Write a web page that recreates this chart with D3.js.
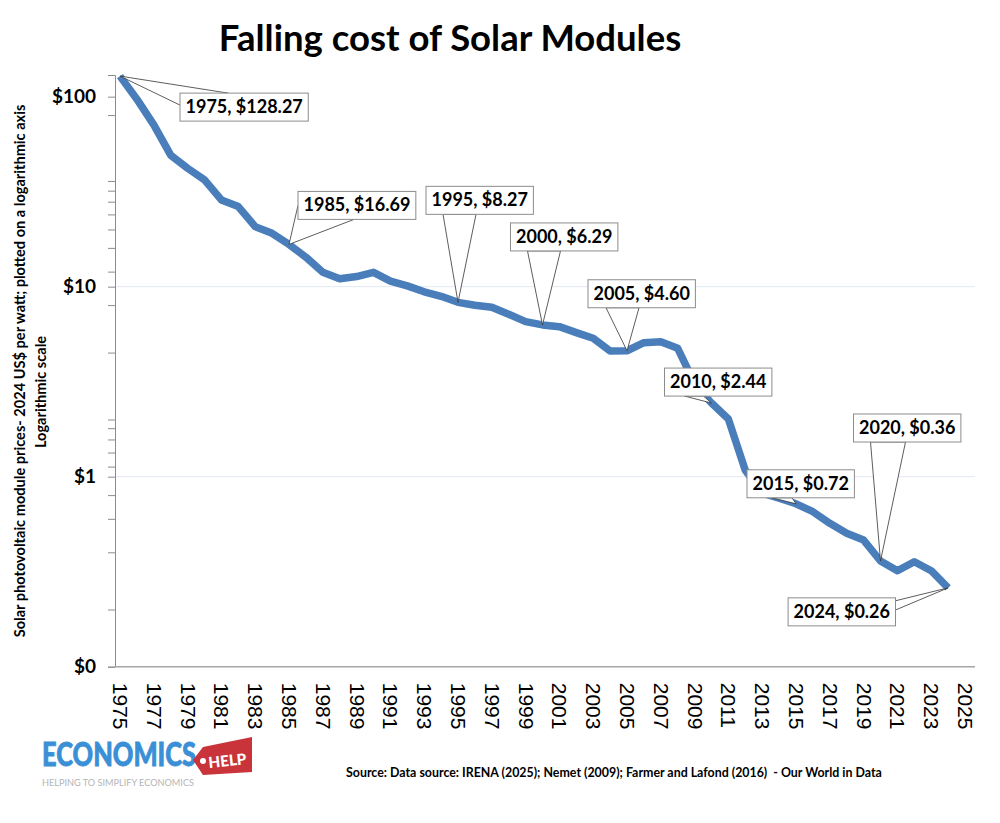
<!DOCTYPE html>
<html>
<head>
<meta charset="utf-8">
<script src="https://cdn.jsdelivr.net/npm/d3@7"></script>
<style>
  body { margin: 0; background: #fff; }
  text { font-family: Lato, "Open Sans", sans-serif; }
</style>
</head>
<body>
<div id="chart"></div>
<script>
// data (2024 US$ per watt)
var years = [1975, 1976, 1977, 1978, 1979, 1980, 1981, 1982, 1983, 1984,
             1985, 1986, 1987, 1988, 1989, 1990, 1991, 1992, 1993, 1994,
             1995, 1996, 1997, 1998, 1999, 2000, 2001, 2002, 2003, 2004,
             2005, 2006, 2007, 2008, 2009, 2010, 2011, 2012, 2013, 2014,
             2015, 2016, 2017, 2018, 2019, 2020, 2021, 2022, 2023, 2024];
var prices = [128.27, 97, 71, 49.2, 42, 36.5, 28.6, 26.4, 20.7, 19.1,
              16.69, 14.3, 11.9, 11.0, 11.3, 11.9, 10.7, 10.1, 9.4, 8.9,
              8.27, 7.98, 7.8, 7.16, 6.55, 6.29, 6.16, 5.73, 5.35, 4.59,
              4.60, 5.07, 5.13, 4.74, 3.1, 2.44, 2.01, 1.08, 0.82, 0.77,
              0.72, 0.654, 0.568, 0.504, 0.464, 0.36, 0.32, 0.357, 0.32, 0.26];

var labelYears = [1975, 1985, 1995, 2000, 2005, 2010, 2015, 2020, 2024];

var yMajorTicks = [0.1, 1, 10, 100];
var yMinorTicks = [80, 36, 32, 28, 24, 20, 16, 12,
                   8, 4.5, 2, 1.8, 1.57, 1.34, 1.13,
                   0.8, 0.6, 0.4, 0.2];
var xTickYears = [1975, 1977, 1979, 1981, 1983, 1985, 1987, 1989, 1991, 1993,
                  1995, 1997, 1999, 2001, 2003, 2005, 2007, 2009, 2011, 2013,
                  2015, 2017, 2019, 2021, 2023, 2025];

// callout box placement: box offset from point, wedge anchors relative to box
var calloutLayout = {
    1975: { dx: 60, dy: 17, a1: [0, 12], a2: [48, 0] },
    1985: { dx: 9, dy: -53, a1: [0, 14], a2: [56, 28] },
    1995: { dx: -32, dy: -116, a1: [17, 28], a2: [50, 28] },
    2000: { dx: -32, dy: -102, a1: [17, 28], a2: [50, 28] },
    2005: { dx: -39, dy: -71, a1: [18, 28], a2: [51, 28] },
    2010: { dx: -47, dy: -35, a1: [20, 28], a2: [39, 28] },
    2015: { dx: -49, dy: -34, a1: [25, 28], a2: [45, 28] },
    2020: { dx: -27, dy: -147, a1: [17, 28], a2: [52, 28] },
    2024: { dx: -160, dy: 10, a1: [103, 4], a2: [103, 14] }
};

var width = 1000, height = 823;
var svg = d3.select("#chart").append("svg")
    .attr("width", width)
    .attr("height", height);

var x = d3.scaleLinear().domain([1975, 2025]).range([120, 965]);
var y = d3.scaleLog().domain([0.1, 130]).range([666.7, 75]);

// title
svg.append("text")
    .attr("x", 450).attr("y", 51)
    .attr("text-anchor", "middle")
    .style("font-size", "36.5px").style("font-weight", "bold")
    .text("Falling cost of Solar Modules");

// gridlines
svg.append("g").selectAll("line")
    .data([1, 10])
    .enter().append("line")
    .attr("x1", 115).attr("x2", 975)
    .attr("y1", d => y(d)).attr("y2", d => y(d))
    .attr("stroke", "#e3e9f2").attr("stroke-width", 1);

// y axis
var yAxis = svg.append("g")
    .attr("transform", "translate(115,0)")
    .call(d3.axisLeft(y).tickValues(yMajorTicks).tickSize(7).tickPadding(12)
        .tickFormat(d => d < 1 ? "$0" : "$" + d));
yAxis.selectAll("text").style("font-size", "19px").style("font-weight", "bold")
    .attr("fill", "#000");
yAxis.select(".domain").attr("stroke", "#8c8c8c");
yAxis.selectAll(".tick line").attr("stroke", "#8c8c8c");

var yMinor = svg.append("g")
    .attr("transform", "translate(115,0)")
    .call(d3.axisLeft(y).tickValues(yMinorTicks).tickSize(7).tickFormat(""));
yMinor.select(".domain").remove();
yMinor.selectAll(".tick line").attr("stroke", "#8c8c8c");

// x axis
var xAxis = svg.append("g")
    .attr("transform", "translate(0,666.7)")
    .call(d3.axisBottom(x).tickValues(xTickYears).tickSize(0).tickFormat(d3.format("d")));
xAxis.select(".domain").remove();
xAxis.append("line")
    .attr("x1", 115).attr("x2", 975)
    .attr("stroke", "#a6a6a6").attr("stroke-width", 1.5);
xAxis.selectAll(".tick text")
    .attr("transform", "rotate(90)")
    .attr("x", 16).attr("y", 0).attr("dy", "0.36em")
    .attr("text-anchor", "start")
    .attr("fill", "#000")
    .style("font-family", "'Liberation Sans', Arial, sans-serif")
    .style("font-size", "21px");

// y axis title
svg.append("text")
    .attr("transform", "translate(25,371) rotate(-90)")
    .attr("text-anchor", "middle")
    .style("font-size", "14.6px").style("font-weight", "bold")
    .text("Solar photovoltaic module prices- 2024 US$ per watt; plotted on a logarithmic axis");
svg.append("text")
    .attr("transform", "translate(46,392) rotate(-90)")
    .attr("text-anchor", "middle")
    .style("font-size", "14.6px").style("font-weight", "bold")
    .text("Logarithmic scale");

// the line
var data = years.map((yr, i) => ({ year: yr, price: prices[i] }));
svg.append("path")
    .datum(data)
    .attr("fill", "none")
    .attr("stroke", "#4a7ebb")
    .attr("stroke-width", 7.5)
    .attr("stroke-linejoin", "round")
    .attr("d", d3.line().x(d => x(d.year)).y(d => y(d.price)));

// callouts
var fmt = d3.format(".2f");
labelYears.forEach(function(yr) {
    var d = data.find(p => p.year === yr);
    var lay = calloutLayout[yr];
    var px = x(d.year), py = y(d.price);
    var bx = px + lay.dx, by = py + lay.dy;
    var g = svg.append("g");
    var wedge = g.append("path").attr("fill", "#fff").attr("stroke", "#333").attr("stroke-width", 0.8);
    var box = g.append("rect").attr("fill", "#fff").attr("stroke", "#8c8c8c").attr("stroke-width", 1);
    var t = g.append("text")
        .style("font-size", "18px").style("font-weight", "bold")
        .text(yr + ", $" + fmt(d.price));
    var w = t.node().getComputedTextLength() + 11;
    box.attr("x", bx).attr("y", by).attr("width", w).attr("height", 28);
    t.attr("x", bx + 5.5).attr("y", by + 20);
    wedge.attr("d", "M" + px + "," + py +
        "L" + (bx + lay.a1[0]) + "," + (by + lay.a1[1]) +
        "L" + (bx + lay.a2[0]) + "," + (by + lay.a2[1]) + "Z");
});

// logo
var logo = svg.append("g");
logo.append("text")
    .attr("x", 42).attr("y", 766)
    .attr("textLength", 154).attr("lengthAdjust", "spacingAndGlyphs")
    .attr("fill", "#3b8fd6")
    .attr("stroke", "#3b8fd6").attr("stroke-width", 0.8)
    .style("font-size", "33px").style("font-weight", 900)
    .text("ECONOMICS");
logo.append("path")
    .attr("d", "M193,760 L203,747 L252,737 L252,772 L203,775 Z")
    .attr("fill", "#c9343b");
logo.append("circle").attr("cx", 203).attr("cy", 761).attr("r", 3).attr("fill", "#fff");
logo.append("text")
    .attr("transform", "translate(209,768) rotate(-6)")
    .attr("textLength", 38).attr("lengthAdjust", "spacingAndGlyphs")
    .attr("fill", "#fff")
    .style("font-size", "15px").style("font-weight", 900)
    .text("HELP");
logo.append("text")
    .attr("x", 42).attr("y", 786)
    .attr("textLength", 152).attr("lengthAdjust", "spacingAndGlyphs")
    .attr("fill", "#b5b5b5")
    .style("font-size", "9px")
    .text("HELPING TO SIMPLIFY ECONOMICS");

// source
svg.append("text")
    .attr("x", 346).attr("y", 777)
    .style("font-size", "12.4px").style("font-weight", "bold")
    .style("white-space", "pre")
    .text("Source: Data source: IRENA (2025); Nemet (2009); Farmer and Lafond (2016)  - Our World in Data");
</script>
</body>
</html>
